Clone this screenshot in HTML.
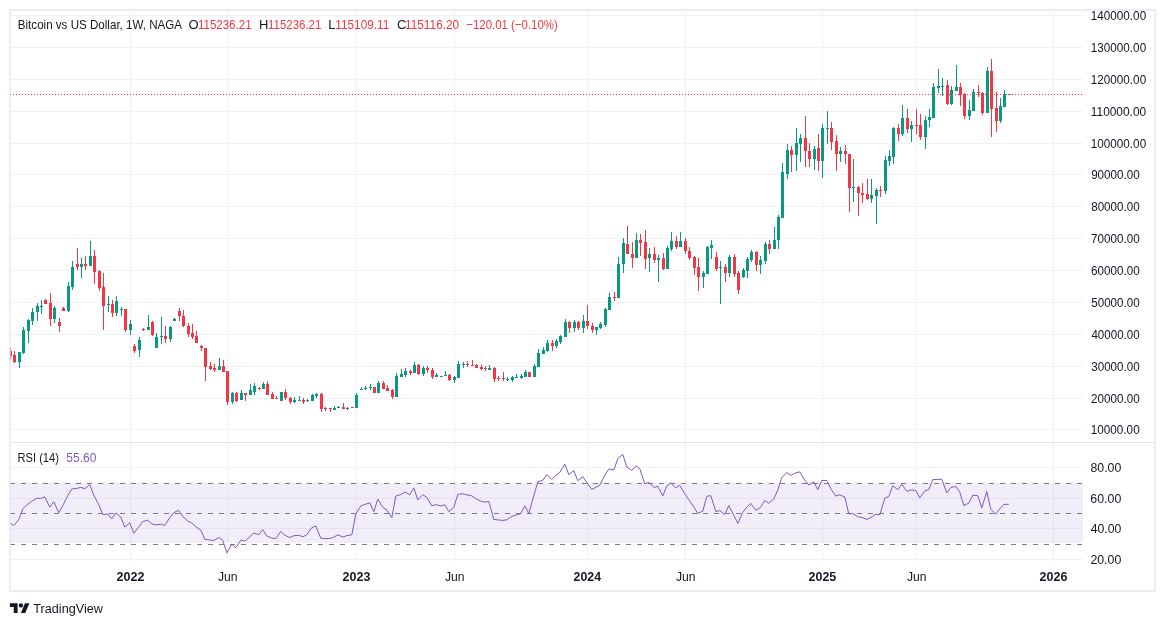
<!DOCTYPE html>
<html><head><meta charset="utf-8"><title>Bitcoin vs US Dollar</title>
<style>html,body{margin:0;padding:0;background:#fff;width:1165px;height:626px;overflow:hidden}svg{display:block}svg{will-change:transform}</style>
</head><body><svg width="1165" height="626" viewBox="0 0 1165 626" shape-rendering="crispEdges"><rect x="0" y="0" width="1165" height="626" fill="#ffffff"/><path fill="#f1f2f3" d="M130 11h1v551h-1zM227 11h1v551h-1zM356 11h1v551h-1zM454 11h1v551h-1zM587 11h1v551h-1zM685 11h1v551h-1zM822 11h1v551h-1zM916 11h1v551h-1zM1053 11h1v551h-1z"/><path fill="#f1f2f3" d="M11 15h1072v1h-1072zM11 47h1072v1h-1072zM11 79h1072v1h-1072zM11 111h1072v1h-1072zM11 143h1072v1h-1072zM11 174h1072v1h-1072zM11 206h1072v1h-1072zM11 238h1072v1h-1072zM11 270h1072v1h-1072zM11 302h1072v1h-1072zM11 334h1072v1h-1072zM11 366h1072v1h-1072zM11 398h1072v1h-1072zM11 429h1072v1h-1072zM11 467h1072v1h-1072zM11 498h1072v1h-1072zM11 528h1072v1h-1072zM11 559h1072v1h-1072z"/><rect x="10" y="482.5" width="1073" height="60.5" fill="#7e57c2" fill-opacity="0.1" shape-rendering="auto"/><path fill="#787b86" d="M10 483h5v1h-5zM21 483h5v1h-5zM32 483h5v1h-5zM43 483h5v1h-5zM54 483h5v1h-5zM65 483h5v1h-5zM76 483h5v1h-5zM87 483h5v1h-5zM98 483h5v1h-5zM109 483h5v1h-5zM120 483h5v1h-5zM131 483h5v1h-5zM142 483h5v1h-5zM153 483h5v1h-5zM164 483h5v1h-5zM175 483h5v1h-5zM186 483h5v1h-5zM197 483h5v1h-5zM208 483h5v1h-5zM219 483h5v1h-5zM230 483h5v1h-5zM241 483h5v1h-5zM252 483h5v1h-5zM263 483h5v1h-5zM274 483h5v1h-5zM285 483h5v1h-5zM296 483h5v1h-5zM307 483h5v1h-5zM318 483h5v1h-5zM329 483h5v1h-5zM340 483h5v1h-5zM351 483h5v1h-5zM362 483h5v1h-5zM373 483h5v1h-5zM384 483h5v1h-5zM395 483h5v1h-5zM406 483h5v1h-5zM417 483h5v1h-5zM428 483h5v1h-5zM439 483h5v1h-5zM450 483h5v1h-5zM461 483h5v1h-5zM472 483h5v1h-5zM483 483h5v1h-5zM494 483h5v1h-5zM505 483h5v1h-5zM516 483h5v1h-5zM527 483h5v1h-5zM538 483h5v1h-5zM549 483h5v1h-5zM560 483h5v1h-5zM571 483h5v1h-5zM582 483h5v1h-5zM593 483h5v1h-5zM604 483h5v1h-5zM615 483h5v1h-5zM626 483h5v1h-5zM637 483h5v1h-5zM648 483h5v1h-5zM659 483h5v1h-5zM670 483h5v1h-5zM681 483h5v1h-5zM692 483h5v1h-5zM703 483h5v1h-5zM714 483h5v1h-5zM725 483h5v1h-5zM736 483h5v1h-5zM747 483h5v1h-5zM758 483h5v1h-5zM769 483h5v1h-5zM780 483h5v1h-5zM791 483h5v1h-5zM802 483h5v1h-5zM813 483h5v1h-5zM824 483h5v1h-5zM835 483h5v1h-5zM846 483h5v1h-5zM857 483h5v1h-5zM868 483h5v1h-5zM879 483h5v1h-5zM890 483h5v1h-5zM901 483h5v1h-5zM912 483h5v1h-5zM923 483h5v1h-5zM934 483h5v1h-5zM945 483h5v1h-5zM956 483h5v1h-5zM967 483h5v1h-5zM978 483h5v1h-5zM989 483h5v1h-5zM1000 483h5v1h-5zM1011 483h5v1h-5zM1022 483h5v1h-5zM1033 483h5v1h-5zM1044 483h5v1h-5zM1055 483h5v1h-5zM1066 483h5v1h-5zM1077 483h5v1h-5z"/><path fill="#787b86" d="M10 513h5v1h-5zM21 513h5v1h-5zM32 513h5v1h-5zM43 513h5v1h-5zM54 513h5v1h-5zM65 513h5v1h-5zM76 513h5v1h-5zM87 513h5v1h-5zM98 513h5v1h-5zM109 513h5v1h-5zM120 513h5v1h-5zM131 513h5v1h-5zM142 513h5v1h-5zM153 513h5v1h-5zM164 513h5v1h-5zM175 513h5v1h-5zM186 513h5v1h-5zM197 513h5v1h-5zM208 513h5v1h-5zM219 513h5v1h-5zM230 513h5v1h-5zM241 513h5v1h-5zM252 513h5v1h-5zM263 513h5v1h-5zM274 513h5v1h-5zM285 513h5v1h-5zM296 513h5v1h-5zM307 513h5v1h-5zM318 513h5v1h-5zM329 513h5v1h-5zM340 513h5v1h-5zM351 513h5v1h-5zM362 513h5v1h-5zM373 513h5v1h-5zM384 513h5v1h-5zM395 513h5v1h-5zM406 513h5v1h-5zM417 513h5v1h-5zM428 513h5v1h-5zM439 513h5v1h-5zM450 513h5v1h-5zM461 513h5v1h-5zM472 513h5v1h-5zM483 513h5v1h-5zM494 513h5v1h-5zM505 513h5v1h-5zM516 513h5v1h-5zM527 513h5v1h-5zM538 513h5v1h-5zM549 513h5v1h-5zM560 513h5v1h-5zM571 513h5v1h-5zM582 513h5v1h-5zM593 513h5v1h-5zM604 513h5v1h-5zM615 513h5v1h-5zM626 513h5v1h-5zM637 513h5v1h-5zM648 513h5v1h-5zM659 513h5v1h-5zM670 513h5v1h-5zM681 513h5v1h-5zM692 513h5v1h-5zM703 513h5v1h-5zM714 513h5v1h-5zM725 513h5v1h-5zM736 513h5v1h-5zM747 513h5v1h-5zM758 513h5v1h-5zM769 513h5v1h-5zM780 513h5v1h-5zM791 513h5v1h-5zM802 513h5v1h-5zM813 513h5v1h-5zM824 513h5v1h-5zM835 513h5v1h-5zM846 513h5v1h-5zM857 513h5v1h-5zM868 513h5v1h-5zM879 513h5v1h-5zM890 513h5v1h-5zM901 513h5v1h-5zM912 513h5v1h-5zM923 513h5v1h-5zM934 513h5v1h-5zM945 513h5v1h-5zM956 513h5v1h-5zM967 513h5v1h-5zM978 513h5v1h-5zM989 513h5v1h-5zM1000 513h5v1h-5zM1011 513h5v1h-5zM1022 513h5v1h-5zM1033 513h5v1h-5zM1044 513h5v1h-5zM1055 513h5v1h-5zM1066 513h5v1h-5zM1077 513h5v1h-5z"/><path fill="#787b86" d="M10 544h5v1h-5zM21 544h5v1h-5zM32 544h5v1h-5zM43 544h5v1h-5zM54 544h5v1h-5zM65 544h5v1h-5zM76 544h5v1h-5zM87 544h5v1h-5zM98 544h5v1h-5zM109 544h5v1h-5zM120 544h5v1h-5zM131 544h5v1h-5zM142 544h5v1h-5zM153 544h5v1h-5zM164 544h5v1h-5zM175 544h5v1h-5zM186 544h5v1h-5zM197 544h5v1h-5zM208 544h5v1h-5zM219 544h5v1h-5zM230 544h5v1h-5zM241 544h5v1h-5zM252 544h5v1h-5zM263 544h5v1h-5zM274 544h5v1h-5zM285 544h5v1h-5zM296 544h5v1h-5zM307 544h5v1h-5zM318 544h5v1h-5zM329 544h5v1h-5zM340 544h5v1h-5zM351 544h5v1h-5zM362 544h5v1h-5zM373 544h5v1h-5zM384 544h5v1h-5zM395 544h5v1h-5zM406 544h5v1h-5zM417 544h5v1h-5zM428 544h5v1h-5zM439 544h5v1h-5zM450 544h5v1h-5zM461 544h5v1h-5zM472 544h5v1h-5zM483 544h5v1h-5zM494 544h5v1h-5zM505 544h5v1h-5zM516 544h5v1h-5zM527 544h5v1h-5zM538 544h5v1h-5zM549 544h5v1h-5zM560 544h5v1h-5zM571 544h5v1h-5zM582 544h5v1h-5zM593 544h5v1h-5zM604 544h5v1h-5zM615 544h5v1h-5zM626 544h5v1h-5zM637 544h5v1h-5zM648 544h5v1h-5zM659 544h5v1h-5zM670 544h5v1h-5zM681 544h5v1h-5zM692 544h5v1h-5zM703 544h5v1h-5zM714 544h5v1h-5zM725 544h5v1h-5zM736 544h5v1h-5zM747 544h5v1h-5zM758 544h5v1h-5zM769 544h5v1h-5zM780 544h5v1h-5zM791 544h5v1h-5zM802 544h5v1h-5zM813 544h5v1h-5zM824 544h5v1h-5zM835 544h5v1h-5zM846 544h5v1h-5zM857 544h5v1h-5zM868 544h5v1h-5zM879 544h5v1h-5zM890 544h5v1h-5zM901 544h5v1h-5zM912 544h5v1h-5zM923 544h5v1h-5zM934 544h5v1h-5zM945 544h5v1h-5zM956 544h5v1h-5zM967 544h5v1h-5zM978 544h5v1h-5zM989 544h5v1h-5zM1000 544h5v1h-5zM1011 544h5v1h-5zM1022 544h5v1h-5zM1033 544h5v1h-5zM1044 544h5v1h-5zM1055 544h5v1h-5zM1066 544h5v1h-5zM1077 544h5v1h-5z"/><defs><clipPath id="cp"><rect x="10" y="11" width="1073" height="551"/></clipPath></defs><g clip-path="url(#cp)"><path fill="#089981" d="M18 352h3v10h-3zM19 362h1v6h-1zM23 327h1v3h-1zM22 330h3v23h-3zM23 353h1v1h-1zM28 319h1v1h-1zM27 320h3v11h-3zM28 331h1v12h-1zM32 308h1v4h-1zM31 312h3v9h-3zM32 321h1v4h-1zM37 303h1v3h-1zM36 306h3v6h-3zM37 312h1v9h-1zM41 300h1v6h-1zM40 306h3v1h-3zM41 307h1v7h-1zM54 306h1v2h-1zM53 308h3v11h-3zM54 319h1v4h-1zM68 282h1v4h-1zM67 286h3v25h-3zM68 311h1v1h-1zM72 261h1v6h-1zM71 267h3v20h-3zM72 287h1v3h-1zM81 258h1v6h-1zM80 264h3v3h-3zM81 267h1v11h-1zM90 241h1v15h-1zM89 256h3v10h-3zM108 296h1v8h-1zM107 304h3v1h-3zM108 305h1v7h-1zM116 296h1v5h-1zM115 301h3v12h-3zM116 313h1v3h-1zM121 307h1v2h-1zM120 309h3v1h-3zM121 310h1v6h-1zM130 320h1v4h-1zM129 324h3v6h-3zM130 330h1v5h-1zM139 337h1v3h-1zM138 340h3v10h-3zM139 350h1v7h-1zM148 315h1v12h-1zM147 327h3v3h-3zM156 333h1v4h-1zM155 337h3v11h-3zM161 317h1v19h-1zM160 336h3v1h-3zM161 337h1v7h-1zM170 326h1v1h-1zM169 327h3v12h-3zM170 339h1v3h-1zM174 318h1v1h-1zM173 319h3v2h-3zM219 358h1v8h-1zM218 366h3v4h-3zM232 392h1v1h-1zM231 393h3v9h-3zM232 402h1v2h-1zM241 390h1v3h-1zM240 393h3v7h-3zM250 384h1v6h-1zM249 390h3v5h-3zM254 383h1v3h-1zM253 386h3v6h-3zM254 392h1v3h-1zM263 382h1v2h-1zM262 384h3v5h-3zM280 392h3v9h-3zM294 397h1v3h-1zM293 400h3v2h-3zM294 402h1v1h-1zM299 396h1v4h-1zM298 400h3v1h-3zM307 399h1v1h-1zM306 400h3v1h-3zM307 401h1v1h-1zM312 394h1v1h-1zM311 395h3v6h-3zM316 393h1v1h-1zM315 394h3v2h-3zM316 396h1v2h-1zM334 406h1v2h-1zM333 408h3v2h-3zM338 406h1v1h-1zM337 407h3v1h-3zM347 407h1v1h-1zM346 408h3v1h-3zM347 409h1v1h-1zM356 393h1v2h-1zM355 395h3v13h-3zM361 387h1v2h-1zM360 389h3v1h-3zM365 386h1v2h-1zM364 388h3v1h-3zM365 389h1v1h-1zM370 384h1v3h-1zM369 387h3v1h-3zM370 388h1v2h-1zM378 381h1v2h-1zM377 383h3v10h-3zM396 373h1v3h-1zM395 376h3v21h-3zM401 369h1v5h-1zM400 374h3v3h-3zM405 368h1v3h-1zM404 371h3v4h-3zM405 375h1v2h-1zM414 362h1v3h-1zM413 365h3v8h-3zM423 366h1v2h-1zM422 368h3v6h-3zM423 374h1v2h-1zM436 373h1v2h-1zM435 375h3v2h-3zM440 376h3v1h-3zM445 371h1v4h-1zM444 375h3v1h-3zM454 376h1v1h-1zM453 377h3v3h-3zM454 380h1v3h-1zM458 361h1v3h-1zM457 364h3v14h-3zM463 362h1v2h-1zM462 364h3v1h-3zM463 365h1v3h-1zM489 365h1v3h-1zM488 368h3v2h-3zM507 377h1v2h-1zM506 379h3v1h-3zM507 380h1v1h-1zM512 376h1v1h-1zM511 377h3v3h-3zM512 380h1v2h-1zM516 374h1v3h-1zM515 377h3v1h-3zM521 374h1v2h-1zM520 376h3v2h-3zM521 378h1v1h-1zM525 370h1v2h-1zM524 372h3v5h-3zM534 364h1v2h-1zM533 366h3v11h-3zM538 349h1v4h-1zM537 353h3v14h-3zM543 347h1v3h-1zM542 350h3v4h-3zM547 340h1v3h-1zM546 343h3v8h-3zM547 351h1v1h-1zM556 339h1v2h-1zM555 341h3v5h-3zM556 346h1v2h-1zM560 335h1v1h-1zM559 336h3v6h-3zM560 342h1v2h-1zM565 319h1v3h-1zM564 322h3v15h-3zM574 320h1v2h-1zM573 322h3v6h-3zM574 328h1v4h-1zM583 315h1v6h-1zM582 321h3v7h-3zM583 328h1v5h-1zM595 327h3v3h-3zM596 330h1v5h-1zM600 322h1v2h-1zM599 324h3v4h-3zM600 328h1v1h-1zM605 308h1v1h-1zM604 309h3v16h-3zM605 325h1v2h-1zM609 293h1v4h-1zM608 297h3v13h-3zM618 257h1v7h-1zM617 264h3v34h-3zM623 238h1v5h-1zM622 243h3v21h-3zM623 264h1v9h-1zM636 233h1v7h-1zM635 240h3v18h-3zM649 248h1v6h-1zM648 254h3v4h-3zM649 258h1v14h-1zM658 255h1v3h-1zM657 258h3v2h-3zM658 260h1v22h-1zM667 246h1v2h-1zM666 248h3v21h-3zM671 232h1v9h-1zM670 241h3v8h-3zM671 249h1v2h-1zM680 232h1v9h-1zM679 241h3v6h-3zM703 271h1v2h-1zM702 273h3v4h-3zM703 277h1v11h-1zM707 246h1v1h-1zM706 247h3v27h-3zM711 240h1v5h-1zM710 245h3v3h-3zM711 248h1v11h-1zM720 261h1v6h-1zM719 267h3v1h-3zM720 268h1v36h-1zM729 255h1v2h-1zM728 257h3v16h-3zM729 273h1v4h-1zM743 268h1v2h-1zM742 270h3v7h-3zM743 277h1v1h-1zM747 257h1v2h-1zM746 259h3v12h-3zM747 271h1v7h-1zM751 250h1v2h-1zM750 252h3v8h-3zM751 260h1v2h-1zM760 256h1v4h-1zM759 260h3v5h-3zM760 265h1v9h-1zM765 242h1v2h-1zM764 244h3v17h-3zM765 261h1v3h-1zM774 227h1v13h-1zM773 240h3v9h-3zM778 215h1v2h-1zM777 217h3v23h-3zM778 240h1v9h-1zM782 163h1v9h-1zM781 172h3v46h-3zM787 144h1v6h-1zM786 150h3v24h-3zM787 174h1v5h-1zM796 128h1v15h-1zM795 143h3v12h-3zM796 155h1v16h-1zM800 134h1v4h-1zM799 138h3v6h-3zM800 144h1v18h-1zM814 146h1v3h-1zM813 149h3v10h-3zM814 159h1v11h-1zM822 124h1v4h-1zM821 128h3v33h-3zM822 161h1v17h-1zM827 111h1v17h-1zM826 128h3v1h-3zM827 129h1v15h-1zM840 147h1v4h-1zM839 151h3v3h-3zM840 154h1v8h-1zM853 159h1v28h-1zM852 187h3v1h-3zM853 188h1v14h-1zM871 179h1v16h-1zM870 195h3v4h-3zM871 199h1v4h-1zM876 188h1v2h-1zM875 190h3v6h-3zM876 196h1v28h-1zM885 156h1v4h-1zM884 160h3v31h-3zM885 191h1v3h-1zM889 150h1v6h-1zM888 156h3v5h-3zM889 161h1v5h-1zM893 127h1v1h-1zM892 128h3v29h-3zM893 157h1v7h-1zM902 105h1v13h-1zM901 118h3v16h-3zM902 134h1v2h-1zM911 121h1v4h-1zM910 125h3v4h-3zM911 129h1v13h-1zM925 116h1v4h-1zM924 120h3v17h-3zM925 137h1v12h-1zM929 109h1v8h-1zM928 117h3v3h-3zM929 120h1v7h-1zM933 83h1v4h-1zM932 87h3v31h-3zM938 69h1v17h-1zM937 86h3v2h-3zM938 88h1v5h-1zM942 78h1v8h-1zM941 86h3v1h-3zM942 87h1v9h-1zM951 86h1v4h-1zM950 90h3v14h-3zM951 104h1v1h-1zM956 65h1v22h-1zM955 87h3v4h-3zM969 100h1v10h-1zM968 110h3v6h-3zM969 116h1v4h-1zM973 89h1v3h-1zM972 92h3v19h-3zM987 67h1v4h-1zM986 71h3v42h-3zM1000 98h1v8h-1zM999 106h3v15h-3zM1000 121h1v2h-1zM1004 90h1v4h-1zM1003 94h3v13h-3z"/><path fill="#f23645" d="M10 347h1v4h-1zM9 351h3v5h-3zM10 356h1v3h-1zM14 351h1v4h-1zM13 355h3v7h-3zM14 362h1v1h-1zM45 299h1v1h-1zM44 300h3v4h-3zM50 293h1v10h-1zM49 303h3v16h-3zM50 319h1v7h-1zM59 318h1v4h-1zM58 322h3v4h-3zM59 326h1v6h-1zM63 307h1v1h-1zM62 308h3v3h-3zM77 248h1v16h-1zM76 264h3v3h-3zM77 267h1v3h-1zM85 256h1v8h-1zM84 264h3v2h-3zM85 266h1v4h-1zM94 250h1v6h-1zM93 256h3v16h-3zM94 272h1v12h-1zM99 270h1v1h-1zM98 271h3v17h-3zM99 288h1v3h-1zM103 273h1v14h-1zM102 287h3v19h-3zM103 306h1v24h-1zM112 300h1v4h-1zM111 304h3v9h-3zM112 313h1v4h-1zM124 309h3v21h-3zM125 330h1v2h-1zM134 344h1v2h-1zM133 346h3v5h-3zM134 351h1v2h-1zM143 328h1v1h-1zM142 329h3v1h-3zM143 330h1v1h-1zM152 321h1v1h-1zM151 322h3v13h-3zM152 335h1v1h-1zM165 326h1v10h-1zM164 336h3v3h-3zM165 339h1v4h-1zM179 308h1v3h-1zM178 311h3v5h-3zM179 316h1v5h-1zM183 310h1v6h-1zM182 316h3v10h-3zM183 326h1v1h-1zM188 323h1v3h-1zM187 326h3v8h-3zM188 334h1v3h-1zM192 324h1v9h-1zM191 333h3v4h-3zM192 337h1v2h-1zM196 331h1v5h-1zM195 336h3v7h-3zM201 345h1v1h-1zM200 346h3v2h-3zM201 348h1v3h-1zM204 348h3v19h-3zM205 367h1v14h-1zM210 362h1v4h-1zM209 366h3v3h-3zM210 369h1v1h-1zM214 364h1v4h-1zM213 368h3v2h-3zM214 370h1v2h-1zM223 360h1v6h-1zM222 366h3v6h-3zM226 371h3v31h-3zM227 402h1v3h-1zM236 392h1v1h-1zM235 393h3v8h-3zM236 401h1v1h-1zM244 393h3v2h-3zM245 395h1v6h-1zM259 387h1v1h-1zM258 388h3v1h-3zM259 389h1v1h-1zM267 381h1v3h-1zM266 384h3v11h-3zM272 392h1v2h-1zM271 394h3v5h-3zM276 396h1v2h-1zM275 398h3v1h-3zM285 389h1v3h-1zM284 392h3v6h-3zM285 398h1v2h-1zM290 397h1v1h-1zM289 398h3v4h-3zM290 402h1v2h-1zM303 398h1v2h-1zM302 400h3v2h-3zM303 402h1v2h-1zM321 393h1v1h-1zM320 394h3v15h-3zM321 409h1v3h-1zM325 407h1v1h-1zM324 408h3v1h-3zM325 409h1v2h-1zM329 408h3v1h-3zM330 409h1v3h-1zM343 403h1v4h-1zM342 407h3v2h-3zM351 407h3v1h-3zM373 387h3v6h-3zM383 381h1v2h-1zM382 383h3v6h-3zM387 385h1v3h-1zM386 388h3v3h-3zM392 389h1v1h-1zM391 390h3v7h-3zM392 397h1v2h-1zM410 370h1v1h-1zM409 371h3v2h-3zM410 373h1v2h-1zM418 364h1v1h-1zM417 365h3v9h-3zM418 374h1v1h-1zM427 366h1v2h-1zM426 368h3v2h-3zM427 370h1v3h-1zM432 368h1v2h-1zM431 370h3v7h-3zM432 377h1v2h-1zM449 374h1v1h-1zM448 375h3v5h-3zM449 380h1v1h-1zM467 361h1v3h-1zM466 364h3v1h-3zM467 365h1v2h-1zM472 360h1v5h-1zM471 365h3v1h-3zM476 364h1v1h-1zM475 365h3v3h-3zM481 365h1v2h-1zM480 367h3v2h-3zM481 369h1v1h-1zM485 366h1v2h-1zM484 368h3v1h-3zM485 369h1v2h-1zM494 367h1v1h-1zM493 368h3v11h-3zM494 379h1v3h-1zM498 376h1v2h-1zM497 378h3v1h-3zM498 379h1v2h-1zM503 372h1v6h-1zM502 378h3v1h-3zM503 379h1v2h-1zM528 372h3v5h-3zM552 340h1v3h-1zM551 343h3v3h-3zM552 346h1v5h-1zM569 321h1v1h-1zM568 322h3v6h-3zM569 328h1v5h-1zM578 321h1v1h-1zM577 322h3v6h-3zM578 328h1v2h-1zM587 305h1v16h-1zM586 321h3v5h-3zM587 326h1v3h-1zM592 323h1v3h-1zM591 326h3v4h-3zM592 330h1v3h-1zM614 292h1v5h-1zM613 297h3v1h-3zM614 298h1v3h-1zM627 226h1v18h-1zM626 244h3v10h-3zM632 242h1v12h-1zM631 254h3v4h-3zM632 258h1v10h-1zM640 234h1v6h-1zM639 240h3v3h-3zM640 243h1v13h-1zM645 230h1v12h-1zM644 242h3v17h-3zM645 259h1v10h-1zM654 247h1v7h-1zM653 254h3v6h-3zM654 260h1v3h-1zM663 253h1v5h-1zM662 258h3v11h-3zM663 269h1v1h-1zM676 236h1v5h-1zM675 241h3v6h-3zM676 247h1v2h-1zM685 238h1v3h-1zM684 241h3v10h-3zM685 251h1v3h-1zM689 247h1v4h-1zM688 251h3v7h-3zM689 258h1v2h-1zM694 256h1v1h-1zM693 257h3v11h-3zM694 268h1v7h-1zM698 258h1v9h-1zM697 267h3v10h-3zM698 277h1v14h-1zM716 252h1v5h-1zM715 257h3v12h-3zM716 269h1v2h-1zM725 264h1v3h-1zM724 267h3v6h-3zM725 273h1v9h-1zM734 254h1v3h-1zM733 257h3v17h-3zM734 274h1v3h-1zM738 271h1v2h-1zM737 273h3v17h-3zM738 290h1v4h-1zM756 251h1v1h-1zM755 252h3v13h-3zM756 265h1v6h-1zM769 240h1v4h-1zM768 244h3v5h-3zM769 249h1v5h-1zM791 146h1v4h-1zM790 150h3v5h-3zM791 155h1v17h-1zM805 116h1v22h-1zM804 138h3v13h-3zM805 151h1v16h-1zM809 143h1v8h-1zM808 151h3v8h-3zM809 159h1v8h-1zM818 134h1v14h-1zM817 148h3v13h-3zM818 161h1v10h-1zM831 122h1v6h-1zM830 128h3v14h-3zM831 142h1v8h-1zM836 135h1v6h-1zM835 141h3v13h-3zM836 154h1v17h-1zM845 145h1v6h-1zM844 151h3v3h-3zM845 154h1v10h-1zM848 154h3v34h-3zM849 188h1v24h-1zM858 186h1v1h-1zM857 187h3v6h-3zM858 193h1v23h-1zM862 183h1v10h-1zM861 193h3v2h-3zM862 195h1v8h-1zM867 179h1v15h-1zM866 194h3v5h-3zM867 199h1v1h-1zM880 186h1v4h-1zM879 190h3v1h-3zM880 191h1v6h-1zM898 124h1v4h-1zM897 128h3v6h-3zM898 134h1v7h-1zM907 109h1v9h-1zM906 118h3v11h-3zM907 129h1v4h-1zM916 109h1v16h-1zM915 125h3v1h-3zM916 126h1v8h-1zM920 114h1v11h-1zM919 125h3v12h-3zM920 137h1v3h-1zM947 80h1v5h-1zM946 85h3v19h-3zM947 104h1v1h-1zM960 83h1v4h-1zM959 87h3v8h-3zM960 95h1v11h-1zM964 93h1v1h-1zM963 94h3v22h-3zM964 116h1v3h-1zM978 85h1v7h-1zM977 92h3v1h-3zM978 93h1v4h-1zM982 92h1v1h-1zM981 93h3v20h-3zM982 113h1v2h-1zM991 59h1v12h-1zM990 71h3v38h-3zM991 109h1v28h-1zM996 92h1v16h-1zM995 108h3v13h-3zM996 121h1v11h-1zM1008 94h3v1h-3z"/><path fill="#f23645" d="M10 94h1v1h-1zM13 94h1v1h-1zM16 94h1v1h-1zM19 94h1v1h-1zM22 94h1v1h-1zM25 94h1v1h-1zM28 94h1v1h-1zM31 94h1v1h-1zM34 94h1v1h-1zM37 94h1v1h-1zM40 94h1v1h-1zM43 94h1v1h-1zM46 94h1v1h-1zM49 94h1v1h-1zM52 94h1v1h-1zM55 94h1v1h-1zM58 94h1v1h-1zM61 94h1v1h-1zM64 94h1v1h-1zM67 94h1v1h-1zM70 94h1v1h-1zM73 94h1v1h-1zM76 94h1v1h-1zM79 94h1v1h-1zM82 94h1v1h-1zM85 94h1v1h-1zM88 94h1v1h-1zM91 94h1v1h-1zM94 94h1v1h-1zM97 94h1v1h-1zM100 94h1v1h-1zM103 94h1v1h-1zM106 94h1v1h-1zM109 94h1v1h-1zM112 94h1v1h-1zM115 94h1v1h-1zM118 94h1v1h-1zM121 94h1v1h-1zM124 94h1v1h-1zM127 94h1v1h-1zM130 94h1v1h-1zM133 94h1v1h-1zM136 94h1v1h-1zM139 94h1v1h-1zM142 94h1v1h-1zM145 94h1v1h-1zM148 94h1v1h-1zM151 94h1v1h-1zM154 94h1v1h-1zM157 94h1v1h-1zM160 94h1v1h-1zM163 94h1v1h-1zM166 94h1v1h-1zM169 94h1v1h-1zM172 94h1v1h-1zM175 94h1v1h-1zM178 94h1v1h-1zM181 94h1v1h-1zM184 94h1v1h-1zM187 94h1v1h-1zM190 94h1v1h-1zM193 94h1v1h-1zM196 94h1v1h-1zM199 94h1v1h-1zM202 94h1v1h-1zM205 94h1v1h-1zM208 94h1v1h-1zM211 94h1v1h-1zM214 94h1v1h-1zM217 94h1v1h-1zM220 94h1v1h-1zM223 94h1v1h-1zM226 94h1v1h-1zM229 94h1v1h-1zM232 94h1v1h-1zM235 94h1v1h-1zM238 94h1v1h-1zM241 94h1v1h-1zM244 94h1v1h-1zM247 94h1v1h-1zM250 94h1v1h-1zM253 94h1v1h-1zM256 94h1v1h-1zM259 94h1v1h-1zM262 94h1v1h-1zM265 94h1v1h-1zM268 94h1v1h-1zM271 94h1v1h-1zM274 94h1v1h-1zM277 94h1v1h-1zM280 94h1v1h-1zM283 94h1v1h-1zM286 94h1v1h-1zM289 94h1v1h-1zM292 94h1v1h-1zM295 94h1v1h-1zM298 94h1v1h-1zM301 94h1v1h-1zM304 94h1v1h-1zM307 94h1v1h-1zM310 94h1v1h-1zM313 94h1v1h-1zM316 94h1v1h-1zM319 94h1v1h-1zM322 94h1v1h-1zM325 94h1v1h-1zM328 94h1v1h-1zM331 94h1v1h-1zM334 94h1v1h-1zM337 94h1v1h-1zM340 94h1v1h-1zM343 94h1v1h-1zM346 94h1v1h-1zM349 94h1v1h-1zM352 94h1v1h-1zM355 94h1v1h-1zM358 94h1v1h-1zM361 94h1v1h-1zM364 94h1v1h-1zM367 94h1v1h-1zM370 94h1v1h-1zM373 94h1v1h-1zM376 94h1v1h-1zM379 94h1v1h-1zM382 94h1v1h-1zM385 94h1v1h-1zM388 94h1v1h-1zM391 94h1v1h-1zM394 94h1v1h-1zM397 94h1v1h-1zM400 94h1v1h-1zM403 94h1v1h-1zM406 94h1v1h-1zM409 94h1v1h-1zM412 94h1v1h-1zM415 94h1v1h-1zM418 94h1v1h-1zM421 94h1v1h-1zM424 94h1v1h-1zM427 94h1v1h-1zM430 94h1v1h-1zM433 94h1v1h-1zM436 94h1v1h-1zM439 94h1v1h-1zM442 94h1v1h-1zM445 94h1v1h-1zM448 94h1v1h-1zM451 94h1v1h-1zM454 94h1v1h-1zM457 94h1v1h-1zM460 94h1v1h-1zM463 94h1v1h-1zM466 94h1v1h-1zM469 94h1v1h-1zM472 94h1v1h-1zM475 94h1v1h-1zM478 94h1v1h-1zM481 94h1v1h-1zM484 94h1v1h-1zM487 94h1v1h-1zM490 94h1v1h-1zM493 94h1v1h-1zM496 94h1v1h-1zM499 94h1v1h-1zM502 94h1v1h-1zM505 94h1v1h-1zM508 94h1v1h-1zM511 94h1v1h-1zM514 94h1v1h-1zM517 94h1v1h-1zM520 94h1v1h-1zM523 94h1v1h-1zM526 94h1v1h-1zM529 94h1v1h-1zM532 94h1v1h-1zM535 94h1v1h-1zM538 94h1v1h-1zM541 94h1v1h-1zM544 94h1v1h-1zM547 94h1v1h-1zM550 94h1v1h-1zM553 94h1v1h-1zM556 94h1v1h-1zM559 94h1v1h-1zM562 94h1v1h-1zM565 94h1v1h-1zM568 94h1v1h-1zM571 94h1v1h-1zM574 94h1v1h-1zM577 94h1v1h-1zM580 94h1v1h-1zM583 94h1v1h-1zM586 94h1v1h-1zM589 94h1v1h-1zM592 94h1v1h-1zM595 94h1v1h-1zM598 94h1v1h-1zM601 94h1v1h-1zM604 94h1v1h-1zM607 94h1v1h-1zM610 94h1v1h-1zM613 94h1v1h-1zM616 94h1v1h-1zM619 94h1v1h-1zM622 94h1v1h-1zM625 94h1v1h-1zM628 94h1v1h-1zM631 94h1v1h-1zM634 94h1v1h-1zM637 94h1v1h-1zM640 94h1v1h-1zM643 94h1v1h-1zM646 94h1v1h-1zM649 94h1v1h-1zM652 94h1v1h-1zM655 94h1v1h-1zM658 94h1v1h-1zM661 94h1v1h-1zM664 94h1v1h-1zM667 94h1v1h-1zM670 94h1v1h-1zM673 94h1v1h-1zM676 94h1v1h-1zM679 94h1v1h-1zM682 94h1v1h-1zM685 94h1v1h-1zM688 94h1v1h-1zM691 94h1v1h-1zM694 94h1v1h-1zM697 94h1v1h-1zM700 94h1v1h-1zM703 94h1v1h-1zM706 94h1v1h-1zM709 94h1v1h-1zM712 94h1v1h-1zM715 94h1v1h-1zM718 94h1v1h-1zM721 94h1v1h-1zM724 94h1v1h-1zM727 94h1v1h-1zM730 94h1v1h-1zM733 94h1v1h-1zM736 94h1v1h-1zM739 94h1v1h-1zM742 94h1v1h-1zM745 94h1v1h-1zM748 94h1v1h-1zM751 94h1v1h-1zM754 94h1v1h-1zM757 94h1v1h-1zM760 94h1v1h-1zM763 94h1v1h-1zM766 94h1v1h-1zM769 94h1v1h-1zM772 94h1v1h-1zM775 94h1v1h-1zM778 94h1v1h-1zM781 94h1v1h-1zM784 94h1v1h-1zM787 94h1v1h-1zM790 94h1v1h-1zM793 94h1v1h-1zM796 94h1v1h-1zM799 94h1v1h-1zM802 94h1v1h-1zM805 94h1v1h-1zM808 94h1v1h-1zM811 94h1v1h-1zM814 94h1v1h-1zM817 94h1v1h-1zM820 94h1v1h-1zM823 94h1v1h-1zM826 94h1v1h-1zM829 94h1v1h-1zM832 94h1v1h-1zM835 94h1v1h-1zM838 94h1v1h-1zM841 94h1v1h-1zM844 94h1v1h-1zM847 94h1v1h-1zM850 94h1v1h-1zM853 94h1v1h-1zM856 94h1v1h-1zM859 94h1v1h-1zM862 94h1v1h-1zM865 94h1v1h-1zM868 94h1v1h-1zM871 94h1v1h-1zM874 94h1v1h-1zM877 94h1v1h-1zM880 94h1v1h-1zM883 94h1v1h-1zM886 94h1v1h-1zM889 94h1v1h-1zM892 94h1v1h-1zM895 94h1v1h-1zM898 94h1v1h-1zM901 94h1v1h-1zM904 94h1v1h-1zM907 94h1v1h-1zM910 94h1v1h-1zM913 94h1v1h-1zM916 94h1v1h-1zM919 94h1v1h-1zM922 94h1v1h-1zM925 94h1v1h-1zM928 94h1v1h-1zM931 94h1v1h-1zM934 94h1v1h-1zM937 94h1v1h-1zM940 94h1v1h-1zM943 94h1v1h-1zM946 94h1v1h-1zM949 94h1v1h-1zM952 94h1v1h-1zM955 94h1v1h-1zM958 94h1v1h-1zM961 94h1v1h-1zM964 94h1v1h-1zM967 94h1v1h-1zM970 94h1v1h-1zM973 94h1v1h-1zM976 94h1v1h-1zM979 94h1v1h-1zM982 94h1v1h-1zM985 94h1v1h-1zM988 94h1v1h-1zM991 94h1v1h-1zM994 94h1v1h-1zM997 94h1v1h-1zM1000 94h1v1h-1zM1003 94h1v1h-1zM1006 94h1v1h-1zM1009 94h1v1h-1zM1012 94h1v1h-1zM1015 94h1v1h-1zM1018 94h1v1h-1zM1021 94h1v1h-1zM1024 94h1v1h-1zM1027 94h1v1h-1zM1030 94h1v1h-1zM1033 94h1v1h-1zM1036 94h1v1h-1zM1039 94h1v1h-1zM1042 94h1v1h-1zM1045 94h1v1h-1zM1048 94h1v1h-1zM1051 94h1v1h-1zM1054 94h1v1h-1zM1057 94h1v1h-1zM1060 94h1v1h-1zM1063 94h1v1h-1zM1066 94h1v1h-1zM1069 94h1v1h-1zM1072 94h1v1h-1zM1075 94h1v1h-1zM1078 94h1v1h-1zM1081 94h1v1h-1z"/><polyline shape-rendering="geometricPrecision" fill="none" stroke="#7e57c2" stroke-width="1" stroke-linejoin="round" points="9.8,522.9 13.8,525.6 18.8,519.6 22.8,508.7 27.8,504.2 31.8,501.2 36.8,498.3 40.8,498.4 44.8,496.9 49.8,507.1 53.8,501.8 58.8,512.7 62.8,505.7 67.8,495.5 71.8,489.0 76.8,488.4 80.8,487.4 84.8,488.7 89.8,484.7 93.8,495.4 98.8,504.8 102.8,514.5 107.8,514.0 111.8,518.9 115.8,513.0 120.8,517.1 124.8,527.1 129.8,522.8 133.8,533.2 138.8,526.9 142.8,521.5 147.8,520.3 151.8,523.9 155.8,524.9 160.8,524.2 164.8,525.5 169.8,517.5 173.8,512.6 178.8,510.3 182.8,516.5 187.8,521.1 191.8,523.0 195.8,526.8 200.8,530.1 204.8,539.3 209.8,540.0 213.8,540.6 218.8,537.5 222.8,540.4 226.8,552.8 231.8,544.3 235.8,547.8 240.8,540.0 244.8,541.0 249.8,536.8 253.8,533.1 258.8,534.6 262.8,529.7 266.8,536.0 271.8,538.1 275.8,538.5 280.8,531.4 284.8,535.2 289.8,537.6 293.8,535.7 298.8,535.3 302.8,536.8 306.8,534.7 311.8,527.6 315.8,526.0 320.8,538.3 324.8,538.5 329.8,538.5 333.8,537.2 337.8,534.8 342.8,537.0 346.8,535.6 351.8,534.9 355.8,513.9 360.8,505.9 364.8,504.5 369.8,502.8 373.8,511.6 377.8,499.2 382.8,507.3 386.8,510.0 391.8,517.6 395.8,496.1 400.8,494.5 404.8,492.0 409.8,494.7 413.8,487.9 417.8,500.0 422.8,494.6 426.8,497.4 431.8,505.8 435.8,504.6 440.8,506.0 444.8,504.7 448.8,511.6 453.8,507.3 457.8,494.4 462.8,493.7 466.8,494.9 471.8,495.8 475.8,498.7 480.8,501.2 484.8,502.1 488.8,501.4 493.8,519.4 497.8,519.9 502.8,520.4 506.8,519.8 511.8,516.3 515.8,515.2 520.8,513.5 524.8,505.8 528.8,513.5 533.8,495.8 537.8,481.8 542.8,480.2 546.8,474.5 551.8,479.5 555.8,475.3 559.8,472.3 564.8,464.2 568.8,474.6 573.8,470.6 577.8,480.8 582.8,476.5 586.8,482.7 591.8,489.4 595.8,487.3 599.8,485.2 604.8,475.1 608.8,468.9 613.8,470.0 617.8,458.7 622.8,454.4 626.8,467.1 631.8,470.4 635.8,465.9 639.8,468.7 644.8,483.8 648.8,482.3 653.8,487.5 657.8,486.3 662.8,495.9 666.8,486.0 670.8,483.0 675.8,487.8 679.8,485.4 684.8,493.8 688.8,499.7 693.8,507.1 697.8,513.3 702.8,511.2 706.8,496.3 710.8,495.7 715.8,511.6 719.8,510.6 724.8,514.5 728.8,505.6 733.8,515.4 737.8,523.4 742.8,512.3 746.8,507.0 750.8,503.4 755.8,510.3 759.8,508.1 764.8,500.5 768.8,503.3 773.8,498.9 777.8,490.1 781.8,477.5 786.8,472.7 790.8,475.4 795.8,472.9 799.8,471.9 804.8,480.4 808.8,484.9 813.8,481.9 817.8,489.7 821.8,480.4 826.8,480.5 830.8,488.8 835.8,496.1 839.8,494.8 844.8,497.1 848.8,513.8 852.8,513.6 857.8,516.8 861.8,517.4 866.8,519.4 870.8,517.5 875.8,514.3 879.8,514.8 884.8,498.1 888.8,496.5 892.8,485.8 897.8,489.7 901.8,484.3 906.8,491.3 910.8,490.0 915.8,490.5 919.8,497.9 924.8,490.9 928.8,489.7 932.8,479.6 937.8,479.4 941.8,479.2 946.8,492.9 950.8,487.5 955.8,486.4 959.8,492.1 963.8,505.5 968.8,503.1 972.8,495.2 977.8,495.7 981.8,507.9 986.8,491.6 990.8,509.3 995.8,514.1 999.8,508.6 1003.8,504.4 1008.8,504.3"/></g><rect x="11" y="442" width="1143" height="1" fill="#e0e3eb"/><path fill="#e0e3eb" fill-opacity="0.6" d="M9 9h1147v2h-1147zM9 590h1147v2h-1147zM9 11h2v579h-2zM1154 11h2v579h-2z"/><g font-family='"Liberation Sans", Arial, sans-serif' shape-rendering="auto"><text x="17.81" y="29" font-size="13" fill="#131722" textLength="164.32" lengthAdjust="spacingAndGlyphs">Bitcoin vs US Dollar, 1W, NAGA</text><text x="188.58" y="29" font-size="13" fill="#131722">O</text><text x="197.94" y="29" font-size="13" fill="#f23645" textLength="53.62" lengthAdjust="spacingAndGlyphs">115236.21</text><text x="258.93" y="29" font-size="13" fill="#131722">H</text><text x="268.04" y="29" font-size="13" fill="#f23645" textLength="53.31" lengthAdjust="spacingAndGlyphs">115236.21</text><text x="328.23" y="29" font-size="13" fill="#131722">L</text><text x="335.33" y="29" font-size="13" fill="#f23645" textLength="53.93" lengthAdjust="spacingAndGlyphs">115109.11</text><text x="396.94" y="29" font-size="13" fill="#131722">C</text><text x="405.03" y="29" font-size="13" fill="#f23645" textLength="54.12" lengthAdjust="spacingAndGlyphs">115116.20</text><text x="466.24" y="29" font-size="13" fill="#f23645" textLength="91.57" lengthAdjust="spacingAndGlyphs">−120.01 (−0.10%)</text><text x="17.59" y="462" font-size="13" fill="#131722" textLength="41.30" lengthAdjust="spacingAndGlyphs">RSI (14)</text><text x="66.32" y="462" font-size="13" fill="#7e57c2" textLength="30.05" lengthAdjust="spacingAndGlyphs">55.60</text><text x="1090.81" y="20" font-size="12.5" fill="#131722" textLength="55.35" lengthAdjust="spacingAndGlyphs">140000.00</text><text x="1090.81" y="52" font-size="12.5" fill="#131722" textLength="55.35" lengthAdjust="spacingAndGlyphs">130000.00</text><text x="1090.81" y="84" font-size="12.5" fill="#131722" textLength="55.35" lengthAdjust="spacingAndGlyphs">120000.00</text><text x="1090.81" y="116" font-size="12.5" fill="#131722" textLength="55.35" lengthAdjust="spacingAndGlyphs">110000.00</text><text x="1090.81" y="148" font-size="12.5" fill="#131722" textLength="55.35" lengthAdjust="spacingAndGlyphs">100000.00</text><text x="1091.15" y="179" font-size="12.5" fill="#131722" textLength="48.50" lengthAdjust="spacingAndGlyphs">90000.00</text><text x="1091.20" y="211" font-size="12.5" fill="#131722" textLength="48.46" lengthAdjust="spacingAndGlyphs">80000.00</text><text x="1091.10" y="243" font-size="12.5" fill="#131722" textLength="48.55" lengthAdjust="spacingAndGlyphs">70000.00</text><text x="1091.11" y="275" font-size="12.5" fill="#131722" textLength="48.55" lengthAdjust="spacingAndGlyphs">60000.00</text><text x="1091.24" y="307" font-size="12.5" fill="#131722" textLength="48.42" lengthAdjust="spacingAndGlyphs">50000.00</text><text x="1091.43" y="339" font-size="12.5" fill="#131722" textLength="48.22" lengthAdjust="spacingAndGlyphs">40000.00</text><text x="1091.26" y="371" font-size="12.5" fill="#131722" textLength="48.40" lengthAdjust="spacingAndGlyphs">30000.00</text><text x="1091.11" y="403" font-size="12.5" fill="#131722" textLength="48.54" lengthAdjust="spacingAndGlyphs">20000.00</text><text x="1090.81" y="434" font-size="12.5" fill="#131722" textLength="48.85" lengthAdjust="spacingAndGlyphs">10000.00</text><text x="1090.46" y="472" font-size="12.5" fill="#131722" textLength="30.82" lengthAdjust="spacingAndGlyphs">80.00</text><text x="1090.37" y="503" font-size="12.5" fill="#131722" textLength="30.91" lengthAdjust="spacingAndGlyphs">60.00</text><text x="1090.72" y="533" font-size="12.5" fill="#131722" textLength="30.56" lengthAdjust="spacingAndGlyphs">40.00</text><text x="1090.38" y="564" font-size="12.5" fill="#131722" textLength="30.90" lengthAdjust="spacingAndGlyphs">20.00</text><text x="116.62" y="581" font-size="12.5" font-weight="bold" fill="#131722" textLength="27.83" lengthAdjust="spacingAndGlyphs">2022</text><text x="218.01" y="581" font-size="12.5" fill="#131722" textLength="19.58" lengthAdjust="spacingAndGlyphs">Jun</text><text x="342.62" y="581" font-size="12.5" font-weight="bold" fill="#131722" textLength="27.78" lengthAdjust="spacingAndGlyphs">2023</text><text x="445.01" y="581" font-size="12.5" fill="#131722" textLength="19.58" lengthAdjust="spacingAndGlyphs">Jun</text><text x="573.62" y="581" font-size="12.5" font-weight="bold" fill="#131722" textLength="27.39" lengthAdjust="spacingAndGlyphs">2024</text><text x="676.01" y="581" font-size="12.5" fill="#131722" textLength="19.58" lengthAdjust="spacingAndGlyphs">Jun</text><text x="808.62" y="581" font-size="12.5" font-weight="bold" fill="#131722" textLength="27.68" lengthAdjust="spacingAndGlyphs">2025</text><text x="907.01" y="581" font-size="12.5" fill="#131722" textLength="19.58" lengthAdjust="spacingAndGlyphs">Jun</text><text x="1039.62" y="581" font-size="12.5" font-weight="bold" fill="#131722" textLength="27.78" lengthAdjust="spacingAndGlyphs">2026</text><g transform="translate(9.9,601) scale(0.549)" fill="#131722"><path d="M14 22H7V11H0V4h14v18zM28 22h-8l7.5-18h8L28 22z"/><circle cx="20" cy="8" r="4"/></g><text x="33.22" y="613" font-size="12.8" fill="#131722" textLength="69.75" lengthAdjust="spacingAndGlyphs">TradingView</text></g></svg></body></html>
